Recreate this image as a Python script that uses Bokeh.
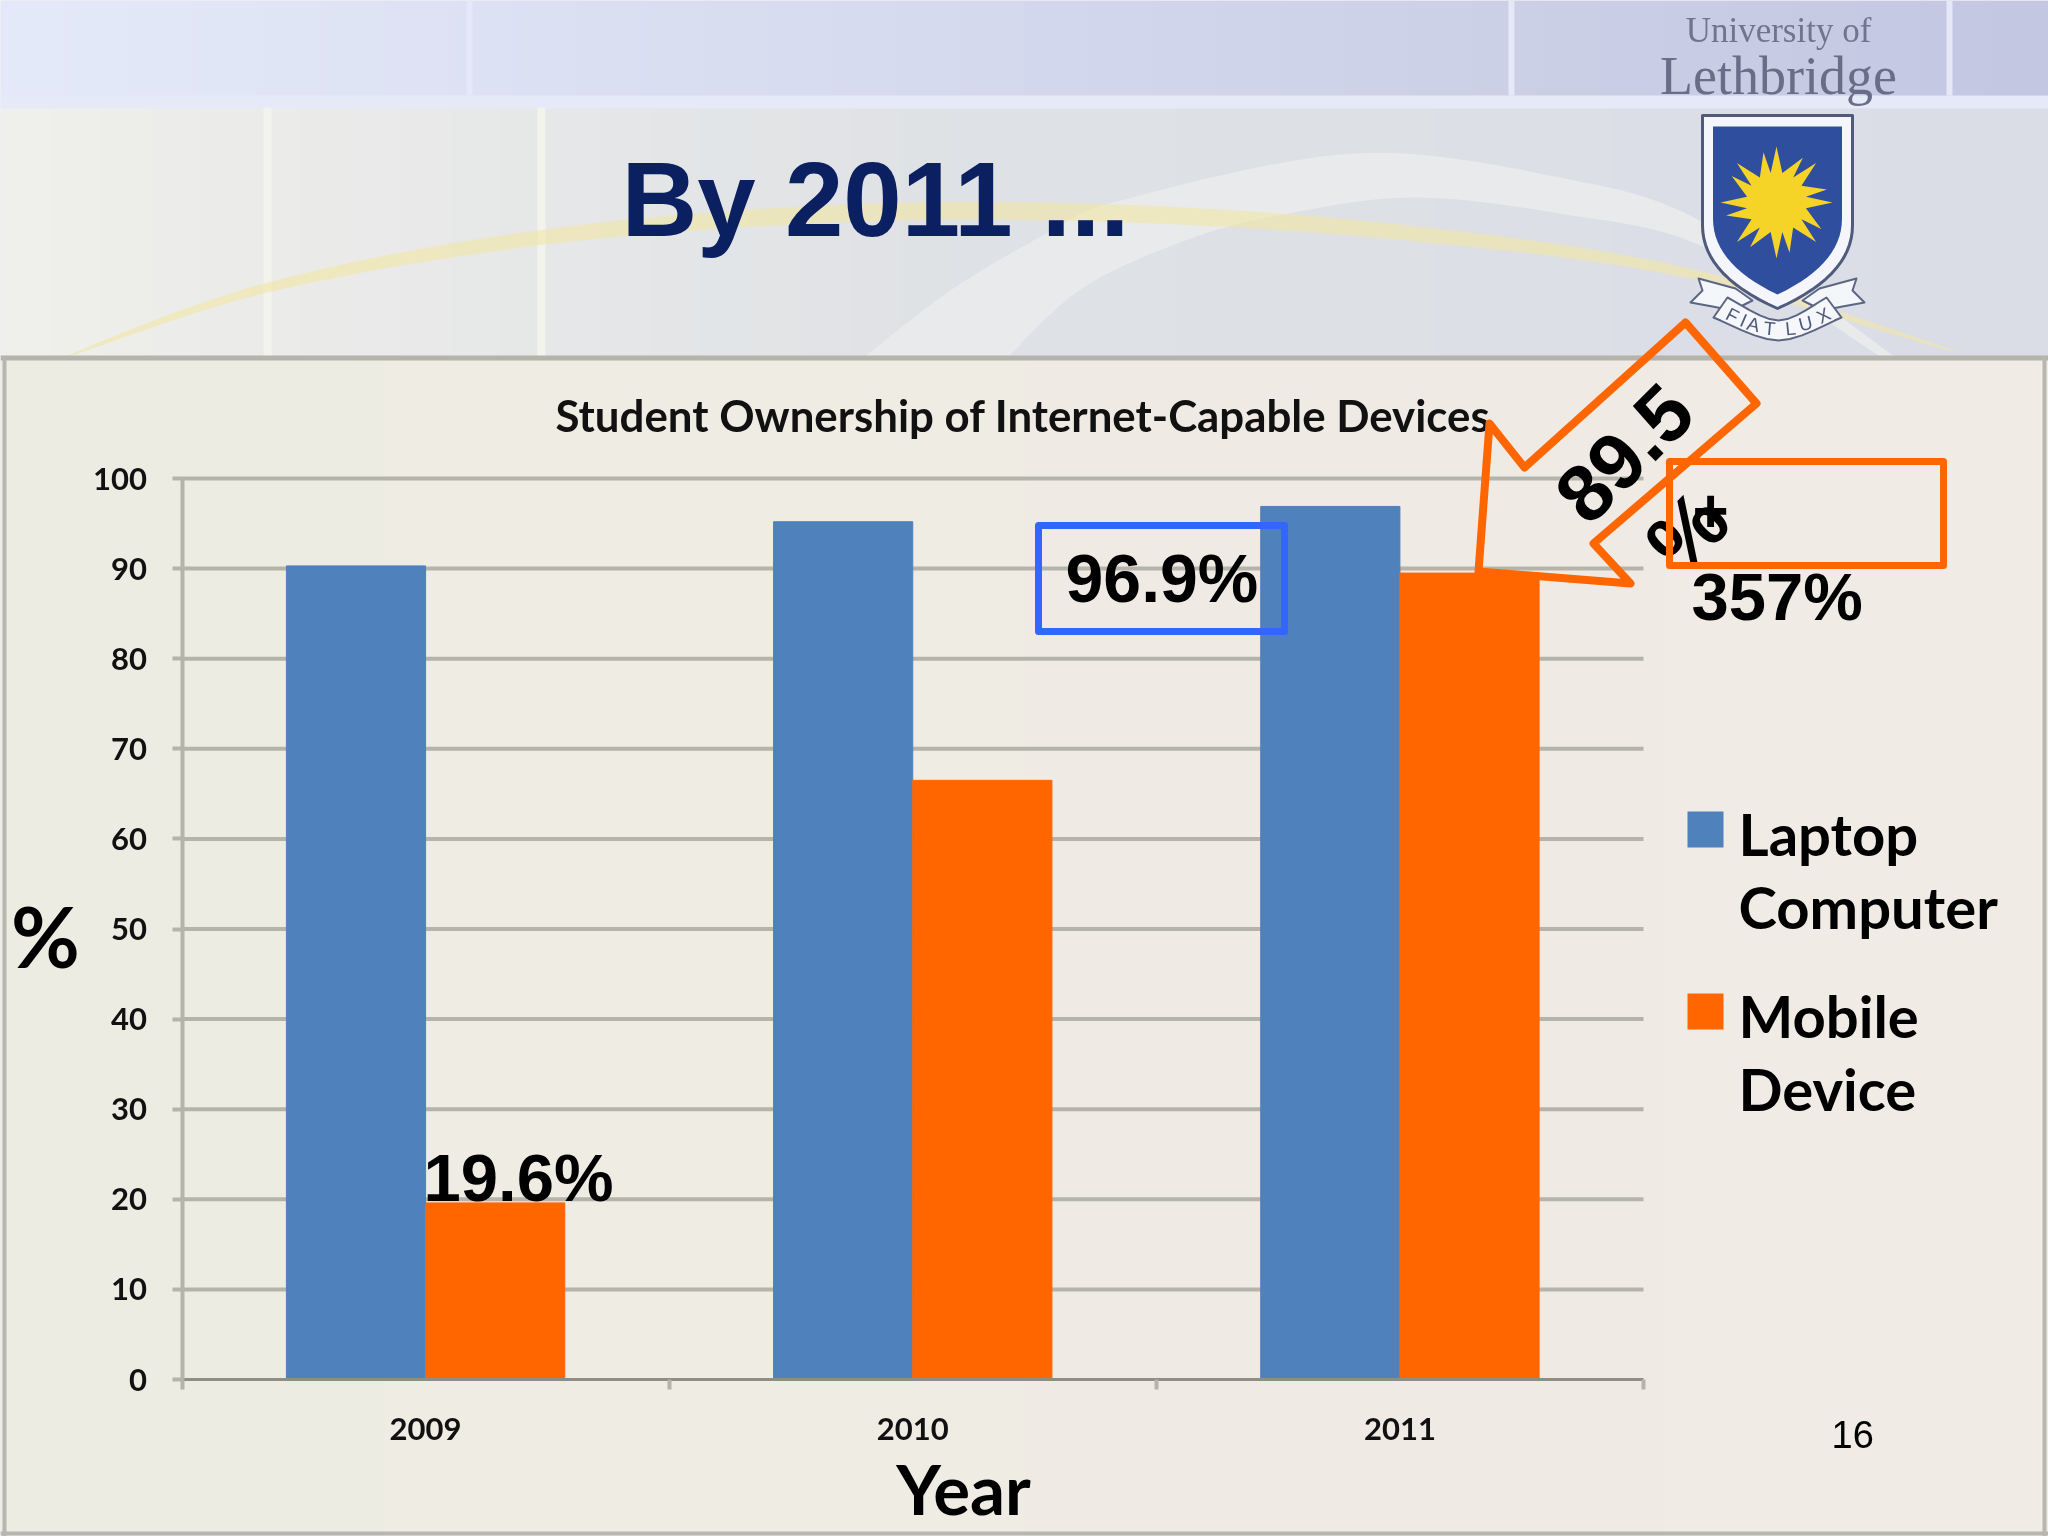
import numpy as np
from bokeh.embed import file_html
from bokeh.models import BoxAnnotation, FixedTicker, Label, PolyAnnotation, Range1d
from bokeh.plotting import figure
from bokeh.resources import INLINE

years = ["2009", "2010", "2011"]
laptop = [90.3, 95.2, 96.9]
mobile = [19.6, 66.5, 89.5]
y_ticks = list(range(0, 101, 10))
legend_labels = ["Laptop\nComputer", "Mobile\nDevice"]

BLUE = "#4f81bd"
ORANGE = "#ff6600"
GRID = "#b5b4aa"
SERIF = "Liberation Serif"
SANS = "Liberation Sans"
CHART = "Lato"
BAR_W = 0.2857

# pixel box of the plot area on the slide, the ranges run past it so the
# whole slide (header, logo, panel) can be drawn in the one frame
LEFT, RIGHT, TOP, BOTTOM = 181.5, 1643.0, 478.0, 1379.0
W, H = 2048, 1536


def box(p, left, right, top, bottom, color, alpha=1.0, level="image"):
    p.add_layout(BoxAnnotation(
        left=left, right=right, top=top, bottom=bottom,
        left_units="canvas", right_units="canvas",
        top_units="canvas", bottom_units="canvas",
        fill_color=color, fill_alpha=alpha, line_color=None, level=level,
    ))


def poly(p, pts, fill="#000000", alpha=1.0, line=None, lw=1, level="image"):
    xs = [float(a[0]) for a in pts]
    ys = [float(a[1]) for a in pts]
    p.add_layout(PolyAnnotation(
        xs=xs, ys=ys, xs_units="canvas", ys_units="canvas",
        fill_color=fill, fill_alpha=alpha,
        line_color=line, line_alpha=1.0, line_width=lw, line_join="round", level=level,
    ))


def text(p, x, y, s, size, color="black", font=SANS, style="bold", angle=0,
         align="left", baseline="base", level="annotation", line_height=1.2):
    # "base" means y is the baseline of the text
    if baseline == "base":
        y = y + 0.21 * size
        baseline = "bottom"
    p.add_layout(Label(
        x=x, y=y, x_units="canvas", y_units="canvas", text=s,
        text_font=font, text_font_size=f"{size}px", text_font_style=style,
        text_color=color, angle=angle, angle_units="deg", text_line_height=line_height,
        text_align=align, text_baseline=baseline, level=level,
    ))


def mix(c1, c2, t):
    a = [int(c1[i:i + 2], 16) for i in (1, 3, 5)]
    b = [int(c2[i:i + 2], 16) for i in (1, 3, 5)]
    return "#%02x%02x%02x" % tuple(round(u + (v - u) * t) for u, v in zip(a, b))


def gradient(p, top, bottom, c1, c2, x0=0, x1=W, n=32):
    step = (x1 - x0) / n
    for i in range(n):
        box(p, x0 + i * step, x0 + (i + 1) * step + 1, top, bottom, mix(c1, c2, i / (n - 1)))


def curve(pts, n=14):
    # catmull-rom through a few hand placed points, for the swooshes on the slide
    pts = [np.array(a, dtype=float) for a in pts]
    pts = [pts[0]] + pts + [pts[-1]]
    out = []
    for i in range(1, len(pts) - 2):
        p0, p1, p2, p3 = pts[i - 1:i + 3]
        for t in np.linspace(0, 1, n, endpoint=False):
            out.append(0.5 * (2 * p1 + (p2 - p0) * t + (2 * p0 - 5 * p1 + 4 * p2 - p3) * t ** 2
                              + (3 * p1 - p0 - 3 * p2 + p3) * t ** 3))
    out.append(pts[-1])
    return out


def slide_background(p):
    gradient(p, 0, 96, "#e4e9f9", "#c3c7e1")
    gradient(p, 107, 360, "#efefeb", "#dee1e5", 0, 1000, 20)
    gradient(p, 107, 360, "#dee1e5", "#dadde6", 1000, W, 12)
    box(p, 0, W, 95, 108, "#e6e9f7")
    for x in (469, 1511, 1949):
        box(p, x - 3, x + 3, 0, 95, "#e4e8f7")
    for x in (267, 541):
        box(p, x - 4, x + 4, 107, 357, "#f3f3ee")

    outer = curve([(863, 357), (950, 290), (1046, 233), (1120, 200), (1354, 153), (1559, 177), (1705, 223), (1895, 357)])
    inner = curve([(1007, 357), (1083, 287), (1193, 237), (1288, 213), (1412, 197), (1559, 213), (1705, 247), (1881, 357)])
    poly(p, outer + inner[::-1], "#e9eaeb")

    mid = curve([(63, 357), (267, 287), (540, 237), (842, 213), (1120, 213), (1412, 233), (1690, 273), (1961, 353)], 10)
    n = len(mid)
    upper = [m + np.array([0, -9 * np.sin(np.pi * i / (n - 1)) ** 0.7]) for i, m in enumerate(mid)]
    lower = [m + np.array([0, 9 * np.sin(np.pi * i / (n - 1)) ** 0.7]) for i, m in enumerate(mid)]
    poly(p, upper + lower[::-1], "#f1e6a4", 0.6)


def logo(p):
    text(p, 1778, 42, "University of", 35, "#70758f", SERIF, "normal", align="center", level="image")
    text(p, 1778, 94, "Lethbridge", 54, "#686d88", SERIF, "normal", align="center", level="image")

    for flip in (1, -1):
        tail = [(1698, 278), (1735, 288), (1752, 300), (1732, 310), (1712, 306), (1690, 302), (1702, 290)]
        poly(p, [(1777 + flip * (x - 1777), y) for x, y in tail], "#f4f6fa", line="#5c6684", lw=2)

    def shield(x0, x1, y0, y1, y2):
        cx = (x0 + x1) / 2
        right = [((1 - t) ** 2 * x1 + 2 * t * (1 - t) * x1 + t ** 2 * cx,
                  (1 - t) ** 2 * y1 + 2 * t * (1 - t) * (y1 + 0.6 * (y2 - y1)) + t ** 2 * y2)
                 for t in np.linspace(0, 1, 16)]
        left = [(x0 + x1 - x, y) for x, y in right[::-1]]
        return [(x0, y0), (x1, y0)] + right + left[1:]

    poly(p, shield(1702, 1852, 115, 225, 308), "#f4f6fb", line="#4f5a7c", lw=3)
    poly(p, shield(1712.5, 1841.5, 126, 218, 294), "#2f4f9e")

    star = []
    for i in range(32):
        a = np.pi * i / 16
        r = 56 if i % 2 == 0 else 30
        if i % 4 == 2:
            a += 0.14
            r = 52
        star.append((1776 + r * np.sin(a), 202 - r * np.cos(a)))
    poly(p, star, "#f5d327")

    band = [(1727, 297)] + curve([(1727, 297), (1778, 320), (1826, 297)], 6) + [(1841, 317)] \
        + curve([(1841, 317), (1778, 340), (1713, 317)], 6)
    poly(p, band, "#f6f7fa", line="#5c6684", lw=2)
    for ch, x, y, a in [("F", 1732, 315, -28), ("I", 1743, 320, -24), ("A", 1753, 324, -14), ("T", 1769, 328, -5),
                        ("L", 1790, 328, 6), ("U", 1805, 323, 14), ("X", 1823, 315, 28)]:
        text(p, x, y, ch, 19, "#4f5a7c", SANS, "normal", a, "center", "middle", "image")


x_unit = (RIGHT - LEFT) / len(years)
y_unit = (BOTTOM - TOP) / 100

p = figure(
    width=W, height=H, output_backend="svg", toolbar_location=None,
    x_range=Range1d(-LEFT / x_unit, (W - LEFT) / x_unit),
    y_range=Range1d((BOTTOM - H) / y_unit, BOTTOM / y_unit),
    min_border=0, background_fill_color="#dfe2e8", border_fill_color="#dfe2e8",
    outline_line_color=None,
)
p.styles = {"position": "fixed", "left": "0px", "top": "0px"}

slide_background(p)
gradient(p, 357, H, "#edece3", "#f0ebe4")
box(p, 0, W, 355, 360, "#b4b4ac")
box(p, 2, 6, 357, H, "#b8b7af")
box(p, W - 6, W - 2, 357, H, "#b8b7af")
box(p, 0, W, H - 5, H - 1, "#b8b7af")
logo(p)

centers = [i + 0.5 for i in range(len(years))]
p.xgrid.grid_line_color = None
p.ygrid.grid_line_color = None
# gridlines stop at the end of the x axis, a Grid would run across the whole frame
p.segment(x0=0, x1=len(years), y0=y_ticks[1:], y1=y_ticks[1:], line_color=GRID, line_width=4)
p.vbar(x=[c - BAR_W / 2 for c in centers], top=laptop, width=BAR_W, color=BLUE)
p.vbar(x=[c + BAR_W / 2 for c in centers], top=mobile, width=BAR_W, color=ORANGE)

xax = p.xaxis[0]
xax.fixed_location = 0
xax.bounds = (0, len(years))
xax.ticker = FixedTicker(ticks=centers, minor_ticks=list(range(len(years) + 1)))
xax.major_label_overrides = dict(zip(centers, years))
xax.major_tick_line_color = None
xax.minor_tick_out = 10
xax.minor_tick_in = 0
xax.minor_tick_line_color = GRID
xax.minor_tick_line_width = 4
xax.axis_line_color = "#8f8e85"
xax.axis_line_width = 3
xax.major_label_standoff = 28

yax = p.yaxis[0]
yax.fixed_location = 0
yax.bounds = (0, 100)
yax.ticker = FixedTicker(ticks=y_ticks)
yax.major_tick_out = 10
yax.major_tick_in = 0
yax.major_tick_line_color = GRID
yax.major_tick_line_width = 4
yax.minor_tick_line_color = None
yax.axis_line_color = GRID
yax.axis_line_width = 4
yax.major_label_standoff = 25

for ax in (xax, yax):
    ax.major_label_text_font = CHART
    ax.major_label_text_font_style = "bold"
    ax.major_label_text_font_size = "31px"
    ax.major_label_text_color = "#111111"

text(p, 555, 431, "Student Ownership of Internet-Capable Devices", 43.8, "#111111", CHART)
text(p, 621, 235, "By 2011 ...", 105, "#0a2060")
text(p, 963, 1515, "Year", 69, font=CHART, align="center")
text(p, 45, 968, "%", 84, font=CHART, align="center")

# hand placed callouts from the slide
p.add_layout(Label(x=centers[0], y=mobile[0], text=f"{mobile[0]}%", text_font=SANS, text_font_style="bold",
                   text_font_size="67px", text_baseline="bottom", text_color="black",
                   x_offset=-2, y_offset=-12))
text(p, 1065, 601, f"{laptop[2]}%", 68)
text(p, 1691, 619, "357%", 67)
box_blue = [(1038, 525), (1284, 525), (1284, 631), (1038, 631)]
poly(p, box_blue, alpha=0, line="#3366ff", lw=7, level="overlay")
box_orange = [(1669, 461), (1943, 461), (1943, 565), (1669, 565)]
poly(p, box_orange, alpha=0, line=ORANGE, lw=7, level="overlay")
arrow = [(1685, 322), (1756, 403), (1593, 543), (1630, 583), (1478, 571), (1489, 423), (1524, 467)]
poly(p, arrow, alpha=0, line=ORANGE, lw=8, level="overlay")
text(p, 1624, 453, f"{mobile[2]}", 80, angle=45, align="center", baseline="middle")
text(p, 1687, 531, "%", 84, angle=45, align="center", baseline="middle")
text(p, 1710, 510, "+", 62, align="center", baseline="middle")

# legend, squares sit against the first line of each entry
for c, top, label in zip((BLUE, ORANGE), (811, 993), legend_labels):
    box(p, 1687, 1723, top, top + 36, c, level="annotation")
    text(p, 1738, top - 13, label, 58, font=CHART, baseline="top", line_height=1.07)

text(p, 1831, 1440, "16", 38, style="normal")

open("out.html", "w").write(file_html(p, INLINE))
